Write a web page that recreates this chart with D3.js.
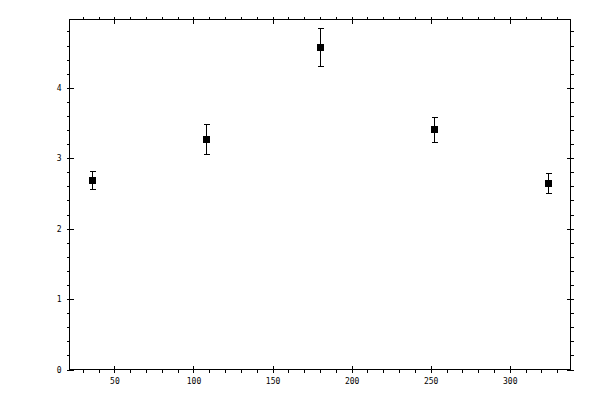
<!DOCTYPE html>
<html>
<head>
<meta charset="utf-8">
<script src="https://cdn.jsdelivr.net/npm/d3@7"></script>
<style>
  body { margin: 0; background: #fff; }
  svg { display: block; }
  .tick text { font-family: "DejaVu Sans Mono", monospace; font-size: 8px; fill: #000; }
  line, rect, path { shape-rendering: crispEdges; }
</style>
</head>
<body>
<div id="chart"></div>
<script>
var angles = [36, 108, 180, 252, 324];
var means = [2.69, 3.27, 4.58, 3.41, 2.65];
var errors = [0.13, 0.21, 0.275, 0.175, 0.145];
var xTicks = [50, 100, 150, 200, 250, 300];
var yTicks = [0, 1, 2, 3, 4];

var data = angles.map(function(a, i) { return {x: a, y: means[i], e: errors[i]}; });

var width = 600, height = 400;
var plotLeft = 69.5, plotRight = 570.5, plotTop = 19.5, plotBottom = 369.5;

var x = d3.scaleLinear().domain([21.6, 338.4]).range([plotLeft, plotRight]);
var y = d3.scaleLinear().domain([0, 4.97]).range([plotBottom, plotTop]);

var xMinor = d3.range(30, 339, 10).filter(function(v) { return v % 50 !== 0; });
var yMinor = d3.range(1, 25).map(function(i) { return i * 0.2; })
  .filter(function(v) { return Math.abs(v - Math.round(v)) > 1e-6 && v < 4.97; });

var svg = d3.select("#chart").append("svg")
  .attr("width", width)
  .attr("height", height);

// major ticks cross the frame: 3px out, 4px in
function major(g) {
  g.select(".domain").remove();
  g.selectAll(".tick line").each(function() {
    var l = d3.select(this);
    var x2 = +l.attr("x2") || 0, y2 = +l.attr("y2") || 0;
    if (x2 !== 0) l.attr("x1", -4 * Math.sign(x2));
    if (y2 !== 0) l.attr("y1", -4 * Math.sign(y2));
  });
}
function minor(g) {
  g.select(".domain").remove();
  g.selectAll(".tick text").remove();
}

// bottom
svg.append("g").attr("transform", "translate(0," + plotBottom + ")")
  .call(d3.axisBottom(x).tickValues(xMinor).tickSize(3).tickSizeOuter(0)).call(minor);
svg.append("g").attr("transform", "translate(0," + plotBottom + ")")
  .call(d3.axisBottom(x).tickValues(xTicks).tickSize(3).tickSizeOuter(0).tickPadding(6))
  .call(major);
// top
svg.append("g").attr("transform", "translate(0," + plotTop + ")")
  .call(d3.axisTop(x).tickValues(xMinor).tickSize(3).tickSizeOuter(0)).call(minor);
svg.append("g").attr("transform", "translate(0," + plotTop + ")")
  .call(d3.axisTop(x).tickValues(xTicks).tickSize(3).tickSizeOuter(0).tickFormat(""))
  .call(major);
// left
svg.append("g").attr("transform", "translate(" + plotLeft + ",0)")
  .call(d3.axisLeft(y).tickValues(yMinor).tickSize(3).tickSizeOuter(0)).call(minor);
svg.append("g").attr("transform", "translate(" + plotLeft + ",0)")
  .call(d3.axisLeft(y).tickValues(yTicks).tickSize(3).tickSizeOuter(0).tickPadding(5).tickFormat(d3.format("d")))
  .call(major);
// right
svg.append("g").attr("transform", "translate(" + plotRight + ",0)")
  .call(d3.axisRight(y).tickValues(yMinor).tickSize(3).tickSizeOuter(0)).call(minor);
svg.append("g").attr("transform", "translate(" + plotRight + ",0)")
  .call(d3.axisRight(y).tickValues(yTicks).tickSize(3).tickSizeOuter(0).tickFormat(""))
  .call(major);

svg.selectAll(".tick line").attr("stroke", "#000");

// frame
svg.append("rect")
  .attr("x", plotLeft).attr("y", plotTop)
  .attr("width", plotRight - plotLeft).attr("height", plotBottom - plotTop)
  .attr("fill", "none").attr("stroke", "#000");

// error bars
var eb = svg.append("g").attr("class", "errorbars");
eb.selectAll("line.v").data(data).enter().append("line")
  .attr("x1", function(d) { return Math.round(x(d.x)) + 0.5; })
  .attr("x2", function(d) { return Math.round(x(d.x)) + 0.5; })
  .attr("y1", function(d) { return y(d.y + d.e); })
  .attr("y2", function(d) { return y(d.y - d.e); })
  .attr("stroke", "#000");
eb.selectAll("line.t").data(data).enter().append("line")
  .attr("x1", function(d) { return Math.round(x(d.x)) - 2.5; })
  .attr("x2", function(d) { return Math.round(x(d.x)) + 3.5; })
  .attr("y1", function(d) { return Math.round(y(d.y + d.e)) + 0.5; })
  .attr("y2", function(d) { return Math.round(y(d.y + d.e)) + 0.5; })
  .attr("stroke", "#000");
eb.selectAll("line.b").data(data).enter().append("line")
  .attr("x1", function(d) { return Math.round(x(d.x)) - 2.5; })
  .attr("x2", function(d) { return Math.round(x(d.x)) + 3.5; })
  .attr("y1", function(d) { return Math.round(y(d.y - d.e)) + 0.5; })
  .attr("y2", function(d) { return Math.round(y(d.y - d.e)) + 0.5; })
  .attr("stroke", "#000");

// markers
svg.selectAll("rect.pt").data(data).enter().append("rect")
  .attr("class", "pt")
  .attr("x", function(d) { return Math.round(x(d.x)) - 3; })
  .attr("y", function(d) { return Math.round(y(d.y)) - 3; })
  .attr("width", 7).attr("height", 7)
  .attr("fill", "#000");
</script>
</body>
</html>
